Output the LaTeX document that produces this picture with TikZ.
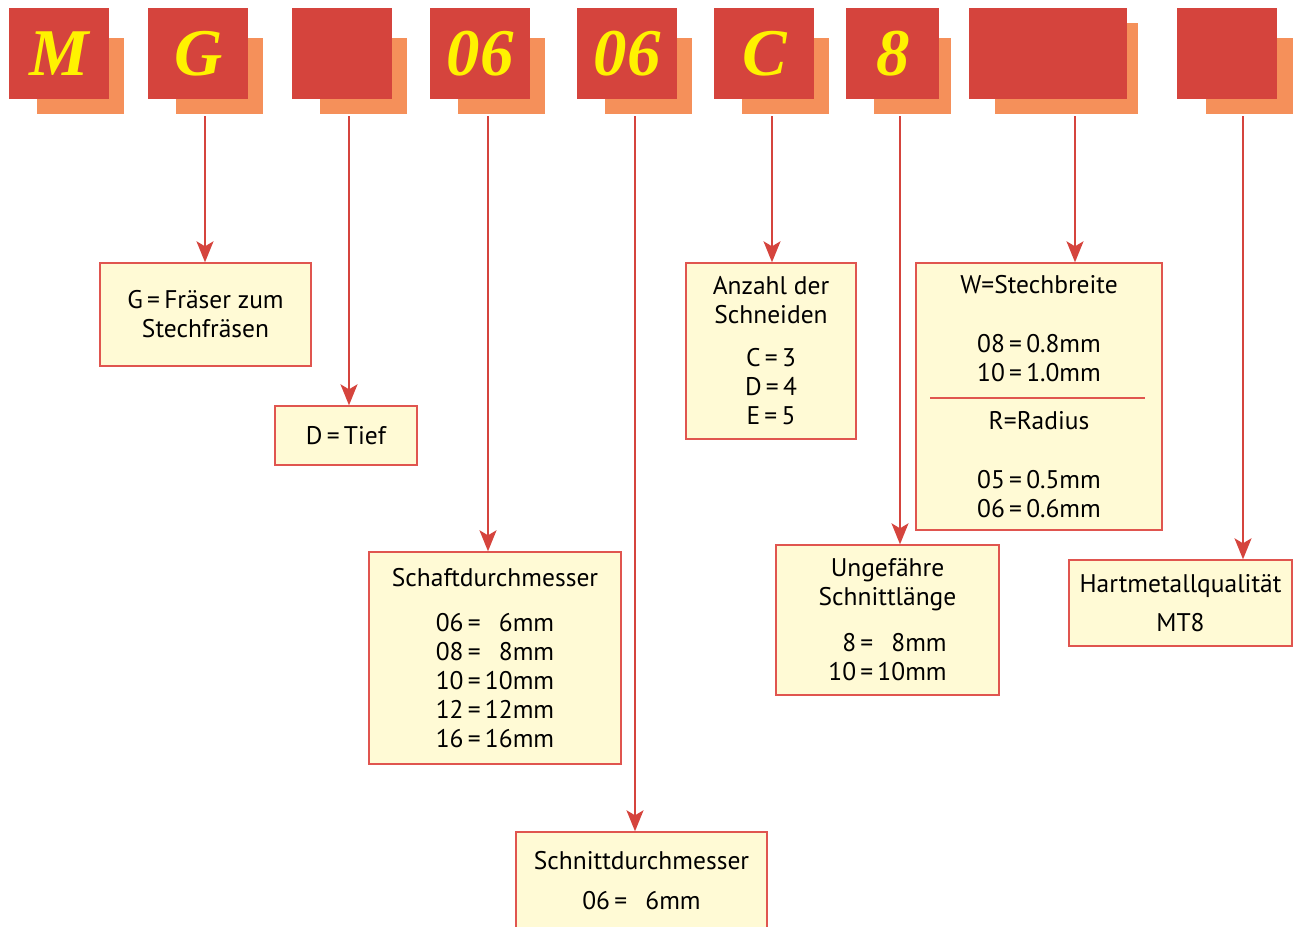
\documentclass[tikz,border=0pt]{standalone}
\usepackage{fontspec}
\setmainfont{PT Sans}
\newfontfamily\codefont{Liberation Serif}
\usepackage{tikz}
\usetikzlibrary{arrows.meta}
\usetikzlibrary{positioning}

\definecolor{codered}{HTML}{D5443D}
\definecolor{codeshade}{HTML}{F5905A}
\definecolor{codeyellow}{HTML}{FFF200}
\definecolor{infofill}{HTML}{FFFAD5}
\definecolor{infoline}{HTML}{E0554F}

\newcommand{\eqs}{\,=\,}

\tikzset{
	codebox/.style={fill=codered, inner sep=0pt, minimum height=1.82cm, anchor=north west, text=codeyellow, font=\codefont\bfseries\itshape\fontsize{38}{38}\selectfont},
	shadebox/.style={fill=codeshade},
	infobox/.style={draw=infoline, line width=0.8pt, fill=infofill, align=center, inner sep=0pt, font=\fontsize{14.5}{16.5}\selectfont},
	pointer/.style={draw=codered, line width=1pt, -{Stealth[length=0.42cm, width=0.34cm, inset=0.1cm]}},
}

\begin{document}
\begin{tikzpicture}
	\path[use as bounding box] (0,0) rectangle (25.86,-18.52);
	\clip (0,0) rectangle (25.86,-18.52);

	% code letters with their shadows
	\foreach \i/\x/\w/\shl/\shr/\sht/\lbl in {1/0.18/2.00/0.56/0.30/0.60/M, 2/2.96/2.00/0.56/0.30/0.60/G, 3/5.84/2.00/0.56/0.30/0.60/, 4/8.60/2.00/0.56/0.30/0.60/06, 5/11.54/2.00/0.56/0.30/0.60/06, 6/14.28/2.00/0.56/0.30/0.60/C, 7/16.92/1.86/0.56/0.24/0.60/8, 8/19.38/3.16/0.52/0.22/0.30/, 9/23.54/2.00/0.58/0.32/0.60/}{
		\fill[shadebox] (\x+\shl, -0.16-\sht) rectangle (\x+\w+\shr, -2.28);
		\node[codebox, minimum width=\w cm] (code\i) at (\x, -0.16) {\lbl};
	}

	\foreach \i/\x in {2/4.10, 3/6.98, 4/9.76, 5/12.70, 6/15.44, 7/18.00, 8/21.50, 9/24.86}
		\coordinate (pin\i) at (\x, -2.32);

	\node[infobox, minimum width=4.22cm, minimum height=2.06cm] (fraeser) at (4.11, -6.29) {G\eqs Fräser zum\\Stechfräsen};
	\node[infobox, minimum width=2.84cm, minimum height=1.18cm] (tief) at (6.92, -8.71) {D\eqs Tief};
	\node[infobox, minimum width=5.04cm, minimum height=4.24cm] (schaft) at (9.90, -13.16) {Schaftdurchmesser\\[0.32cm] 06\eqs\hphantom{1}6mm\\08\eqs\hphantom{1}8mm\\10\eqs 10mm\\12\eqs 12mm\\16\eqs 16mm};
	\node[infobox, minimum width=5.02cm, minimum height=1.96cm] (schnitt) at (12.83, -17.62) {Schnittdurchmesser\\[0.22cm] 06\eqs\hphantom{1}6mm};
	\node[infobox, minimum width=3.40cm, minimum height=3.52cm] (anzahl) at (15.42, -7.02) {Anzahl der\\Schneiden\\[0.28cm] C\eqs 3\\D\eqs 4\\E\eqs 5};
	\node[infobox, minimum width=4.46cm, minimum height=3.00cm] (laenge) at (17.75, -12.40) {Ungefähre\\Schnittlänge\\[0.34cm] \hphantom{1}8\eqs\hphantom{1}8mm\\10\eqs 10mm};
	\node[infobox, minimum width=4.92cm, minimum height=5.34cm] (breite) at (20.78, -7.93) {W=Stechbreite\\[0.6cm] 08\eqs 0.8mm\\10\eqs 1.0mm\\[0.38cm] R=Radius\\[0.6cm] 05\eqs 0.5mm\\06\eqs 0.6mm};
	\node[infobox, minimum width=4.46cm, minimum height=1.72cm] (sorte) at (23.61, -12.06) {Hartmetallqualität\\[0.2cm] MT8};

	\draw[infoline, line width=1.2pt] ([shift={(0.30,-0.03)}]breite.west) -- ([shift={(-0.36,-0.03)}]breite.east);

	\foreach \i/\target in {2/fraeser, 3/tief, 4/schaft, 5/schnitt, 6/anzahl, 7/laenge, 8/breite, 9/sorte}
		\draw[pointer] (pin\i) -- (pin\i |- \target.north);
\end{tikzpicture}
\end{document}
